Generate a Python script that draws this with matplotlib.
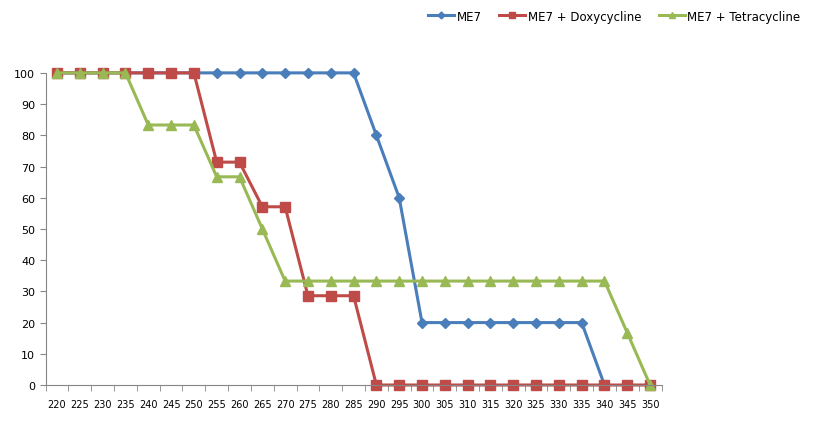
import numpy as np
import matplotlib.pyplot as plt

days = list(range(220, 355, 5))
me7 = [100]*14 + [80, 60] + [20]*8 + [0, np.nan, np.nan]
doxy = [100]*7 + [71.4, 71.4, 57.1, 57.1, 28.6, 28.6, 28.6] + [0]*13
tetra = [100]*4 + [83.3]*3 + [66.7, 66.7, 50] + [33.3]*15 + [16.7, 0]

fig = plt.figure(figsize=(8.19, 4.27), dpi=100)
ax = fig.add_axes([0.0557, 0.096, 0.752, 0.731])

x = np.arange(len(days))
ax.plot(x, me7, color='#4A7EBB', lw=2.2, marker='D', ms=5, label='ME7', clip_on=False)
ax.plot(x, doxy, color='#BE4B48', lw=2.2, marker='s', ms=6.5,
        label='ME7 + Doxycycline', clip_on=False)
ax.plot(x, tetra, color='#98B954', lw=2.2, marker='^', ms=6.5,
        label='ME7 + Tetracycline', clip_on=False)

ax.set_xlim(-0.5, len(days) - 0.5)
ax.set_ylim(0, 100)
ax.set_yticks(range(0, 101, 10))
ax.set_xticks(x)
ax.set_xticklabels([str(d) for d in days], fontsize=7)
ax.set_xticks(np.arange(-0.5, len(days), 1), minor=True)
ax.tick_params(axis='x', which='major', length=0, pad=10)
ax.tick_params(axis='x', which='minor', length=4, color='#868686', direction='out')
ax.tick_params(axis='y', length=4, color='#868686', labelsize=8)
for s in ['top', 'right']:
    ax.spines[s].set_visible(False)
for s in ['left', 'bottom']:
    ax.spines[s].set_color('#868686')

fig.legend(loc='upper right', bbox_to_anchor=(0.99, 1.0), ncol=3, frameon=False,
           fontsize=8.5, handlelength=2.2, handletextpad=0.2, columnspacing=1.5,
           markerscale=0.7)

plt.savefig('out.png')
